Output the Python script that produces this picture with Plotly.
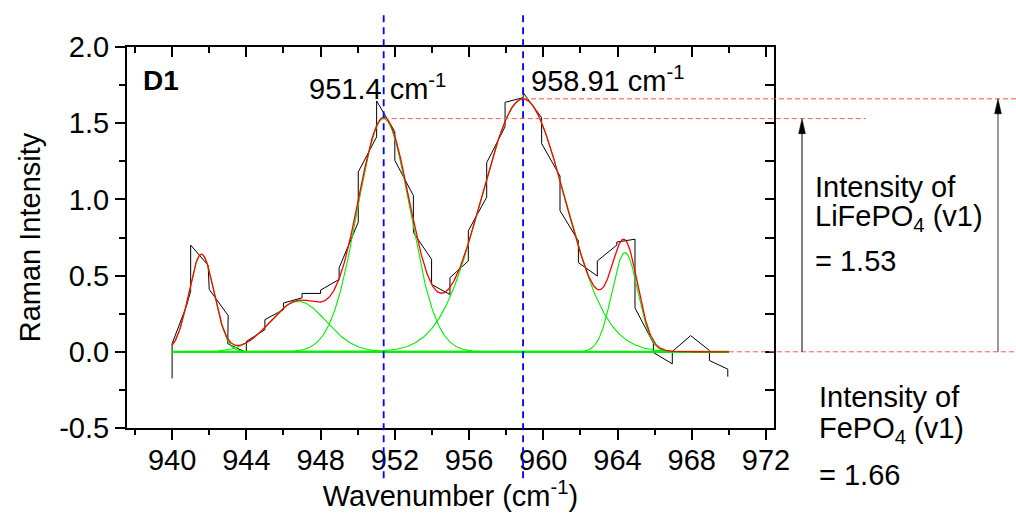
import numpy as np
import plotly.graph_objects as go

# ---- measured spectrum (wavenumber, intensity) ----
raw_x = [940.0, 940.0, 940.78, 941.0, 941.0, 941.94, 942.0, 943.02, 943.0, 944.0, 944.0,
         945.0, 945.0, 946.0, 946.0, 947.0, 947.0, 948.0, 948.0, 949.0, 949.0,
         950.03, 950.03, 951.02, 951.02, 952.0, 952.0, 953.0, 953.0, 953.98, 953.98,
         954.97, 954.97, 955.96, 955.96, 956.95, 956.95, 957.94, 957.94, 958.92, 958.92,
         959.91, 959.91, 960.9, 960.9, 961.89, 961.89, 962.91, 962.91, 963.96, 963.96,
         964.94, 964.94, 965.93, 965.93, 966.95, 966.95, 967.94, 968.95, 968.95,
         969.94, 969.94]
raw_y = [-0.174, 0.053, 0.304, 0.398, 0.70, 0.568, 0.41, 0.238, 0.053, -0.005, 0.068,
         0.145, 0.211, 0.277, 0.32, 0.354, 0.383, 0.383, 0.405, 0.475, 0.552,
         0.85, 1.18, 1.41, 1.646, 1.444, 1.256, 1.025, 0.783, 0.607, 0.442,
         0.376, 0.486, 0.596, 0.794, 1.015, 1.241, 1.477, 1.637, 1.668, 1.70,
         1.536, 1.366, 1.153, 0.926, 0.728, 0.585, 0.497, 0.596, 0.70, 0.72,
         0.739, 0.288, 0.057, -0.005, -0.079, 0.002, 0.106, 0.009, -0.057,
         -0.114, -0.163]

# ---- fitted Gaussian components ----
peak_centers = [941.58, 946.8, 951.4, 958.91, 964.4]
peak_heights = [0.64, 0.33, 1.53, 1.66, 0.651]
peak_sigmas = [0.68, 1.5, 1.42, 2.25, 0.7]
fit_start, fit_end = 940.0, 970.0

# marked bands: LiFePO4 (951.4) and FePO4 (958.91)
marked_pos = [951.4, 958.91]
marked_int = [1.53, 1.66]

x_range = [937.57, 972.43]
y_range = [-0.5, 2.0]
y_ticks = [-0.5, 0.0, 0.5, 1.0, 1.5, 2.0]

FONT = "Liberation Sans, Arial, sans-serif"
FS = 29
GREEN = "#00ee00"
RED = "#ff0000"

xs = np.linspace(fit_start, fit_end, 901)
comps = [h * np.exp(-(xs - c) ** 2 / (2 * s ** 2))
         for c, h, s in zip(peak_centers, peak_heights, peak_sigmas)]
total = np.sum(comps, axis=0)

fig = go.Figure()
fig.add_trace(go.Scatter(x=raw_x, y=raw_y, mode="lines",
                         line=dict(color="black", width=1), hoverinfo="skip"))
fig.add_trace(go.Scatter(x=xs, y=np.zeros_like(xs), mode="lines",
                         line=dict(color=GREEN, width=2.2), hoverinfo="skip"))
for comp in comps:
    fig.add_trace(go.Scatter(x=xs, y=comp, mode="lines",
                             line=dict(color=GREEN, width=1.1), hoverinfo="skip"))
fig.add_trace(go.Scatter(x=xs, y=total, mode="lines",
                         line=dict(color=RED, width=1.3), hoverinfo="skip"))


def to_paper_x(v):
    return (v - x_range[0]) / (x_range[1] - x_range[0])


shapes = []
# vertical dashed markers at the band positions
for p in marked_pos:
    shapes.append(dict(type="line", xref="x", yref="paper", x0=p, x1=p,
                       y0=-0.132, y1=1.094,
                       line=dict(color="#0000ff", width=1.8, dash="7px,5px")))
# horizontal dashed levels from each band maximum
level_ends = [1.142, 1.38]
for p, h, e in zip(marked_pos, marked_int, level_ends):
    shapes.append(dict(type="line", xref="paper", yref="y", x0=to_paper_x(p), x1=e,
                       y0=h, y1=h, line=dict(color="#ff5555", width=1, dash="5px,3px")))
# baseline extension
shapes.append(dict(type="line", xref="paper", yref="y", x0=to_paper_x(fit_end), x1=1.38,
                   y0=0, y1=0, line=dict(color="#ff5555", width=1, dash="5px,3px")))

# intensity arrows (shaft + filled head)
arrow_x = [1.0433, 1.3462]
arrow_col = ["black", "#333333"]
head_dx = 3.4 / 647
head_dy = 15 / 152.4
for ax_, h, col in zip(arrow_x, marked_int, arrow_col):
    shapes.append(dict(type="line", xref="paper", yref="y", x0=ax_, x1=ax_,
                       y0=0, y1=h - head_dy * 0.6, line=dict(color=col, width=1)))
    shapes.append(dict(type="path", xref="paper", yref="y",
                       path=f"M {ax_},{h} L {ax_ - head_dx},{h - head_dy} "
                            f"L {ax_ + head_dx},{h - head_dy} Z",
                       fillcolor="black", line=dict(color="black", width=0.5)))

annots = [
    dict(text="<b>D1</b>", x=0.021, y=0.913, xanchor="left", yanchor="middle",
         font=dict(size=28)),
    dict(text=f"{marked_pos[0]} cm<sup>-1</sup>", x=0.2777, y=0.895,
         xanchor="left", yanchor="middle", font=dict(size=FS)),
    dict(text=f"{marked_pos[1]} cm<sup>-1</sup>", x=0.6213, y=0.916,
         xanchor="left", yanchor="middle", font=dict(size=FS)),
    dict(text="Intensity of", x=1.061, y=0.632, xanchor="left", yanchor="middle",
         font=dict(size=FS)),
    dict(text="LiFePO<sub>4</sub> (v1)", x=1.061, y=0.551, xanchor="left",
         yanchor="middle", font=dict(size=FS)),
    dict(text=f"= {marked_int[0]}", x=1.061, y=0.438, xanchor="left",
         yanchor="middle", font=dict(size=FS)),
    dict(text="Intensity of", x=1.066, y=0.081, xanchor="left", yanchor="middle",
         font=dict(size=FS)),
    dict(text="FePO<sub>4</sub> (v1)", x=1.066, y=-0.005, xanchor="left",
         yanchor="middle", font=dict(size=FS)),
    dict(text=f"= {marked_int[1]}", x=1.066, y=-0.123, xanchor="left",
         yanchor="middle", font=dict(size=FS)),
]
for a in annots:
    a.update(xref="paper", yref="paper", showarrow=False)
    a["font"].update(family=FONT, color="black")

axis_common = dict(showgrid=False, zeroline=False, showline=True, linecolor="black",
                   linewidth=2, tickcolor="black", tickwidth=2)

fig.update_layout(
    width=1016, height=523,
    margin=dict(l=127, r=242, t=47, b=95),
    paper_bgcolor="white", plot_bgcolor="white",
    showlegend=False,
    font=dict(family=FONT, color="black", size=FS),
    shapes=shapes,
    annotations=annots,
    xaxis=dict(range=x_range, tickmode="linear", tick0=940, dtick=4,
               ticks="outside", ticklen=10, ticklabelstandoff=-5,
               minor=dict(dtick=2, tick0=940, ticks="outside", ticklen=5,
                          tickwidth=2, tickcolor="black"),
               tickfont=dict(size=FS),
               title=dict(text="Wavenumber (cm<sup>-1</sup>)", font=dict(size=FS),
                          standoff=6),
               **axis_common),
    xaxis2=dict(range=x_range, overlaying="x", side="top", matches="x",
                tickmode="linear", tick0=940, dtick=4, ticks="inside", ticklen=10,
                showticklabels=False,
                minor=dict(dtick=2, tick0=940, ticks="inside", ticklen=6,
                           tickwidth=2, tickcolor="black"),
                **axis_common),
    yaxis=dict(range=y_range, tickmode="array", tickvals=y_ticks,
               ticktext=[f"{v:.1f}" for v in y_ticks],
               ticks="outside", ticklen=10,
               minor=dict(tickmode="linear", tick0=-0.5, dtick=0.25, ticks="outside",
                          ticklen=6, tickwidth=2, tickcolor="black"),
               tickfont=dict(size=FS),
               title=dict(text="Raman Intensity", font=dict(size=FS), standoff=10),
               **axis_common),
    yaxis2=dict(range=y_range, overlaying="y", side="right", matches="y",
                tickmode="linear", tick0=-0.5, dtick=0.5, ticks="inside", ticklen=9,
                showticklabels=False,
                minor=dict(dtick=0.25, ticks="inside", ticklen=9,
                           tickwidth=2, tickcolor="black"),
                **axis_common),
)
# invisible trace to activate the mirrored axes
fig.add_trace(go.Scatter(x=[x_range[0]], y=[y_range[0]], xaxis="x2", yaxis="y2",
                         mode="markers", marker=dict(opacity=0), hoverinfo="skip"))

fig.write_html("out.html")
